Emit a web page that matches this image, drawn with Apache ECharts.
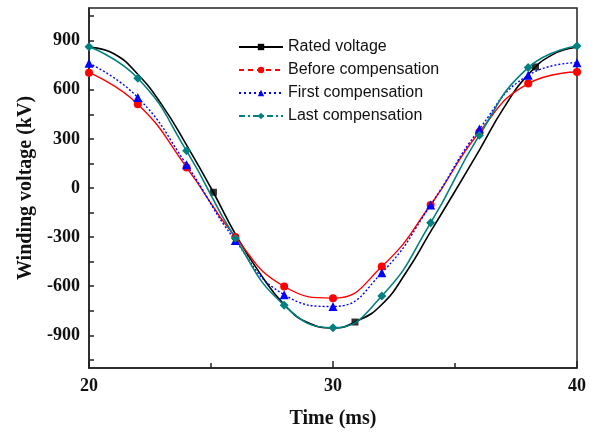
<!DOCTYPE html>
<html>
<head>
<meta charset="utf-8">
<script src="https://cdn.jsdelivr.net/npm/echarts@6/dist/echarts.min.js"></script>
<style>
html,body{margin:0;padding:0;background:#fff;}
#chart{width:595px;height:434px;}
</style>
</head>
<body>
<div id="chart"></div>
<script>
// ---- data ----
var seriesNames = ['Rated voltage', 'Before compensation', 'First compensation', 'Last compensation'];

var ratedT = [20, 21, 22, 23, 24, 25, 26, 27, 28, 29, 30, 31, 32, 33, 34, 35, 36, 37, 38, 39, 40];
var ratedV = [860, 822, 695, 505, 262, 0, -282, -520, -712, -825, -855, -812, -712, -515, -267, -20, 232, 490, 693, 815, 860];
var ratedMarkerT = [25.1, 30.9, 38.3];
var ratedMarkerV = [-26, -819, 740];

var compT = [20, 22, 24, 26, 28, 30, 32, 34, 36, 38, 40];
var beforeV = [705, 512, 126, -300, -602, -673, -480, -104, 342, 638, 709];
var firstV  = [762, 553, 142, -321, -652, -724, -518, -104, 360, 689, 766];
var lastV   = [863, 671, 227, -307, -717, -854, -660, -213, 323, 736, 868];

var yLabelValues = [-900, -600, -300, 0, 300, 600, 900];
var yTickValues = [-1050, -900, -750, -600, -450, -300, -150, 0, 150, 300, 450, 600, 750, 900, 1050];

// ---- build ----
function pairs(t, v) { return t.map(function (x, i) { return [x, v[i]]; }); }

var chart = echarts.init(document.getElementById('chart'));
var serif = '"Liberation Serif", "Times New Roman", serif';
var axisColor = '#222';
chart.setOption({
  animation: false,
  backgroundColor: '#fff',
  grid: { left: 89, right: 18, top: 8, bottom: 65, show: true, borderColor: axisColor, borderWidth: 1.5, backgroundColor: 'transparent' },
  legend: {
    orient: 'vertical', left: 233, top: 34, itemWidth: 44, itemHeight: 8, itemGap: 7,
    textStyle: { fontFamily: '"Liberation Sans", Arial, sans-serif', fontSize: 16, color: '#111' },
    data: [
      { name: seriesNames[0], lineStyle: { type: 'solid' } },
      { name: seriesNames[1], lineStyle: { type: [5, 4] } },
      { name: seriesNames[2], lineStyle: { type: [2, 3] } },
      { name: seriesNames[3], lineStyle: { type: [6, 3, 2, 3] } }
    ]
  },
  xAxis: {
    type: 'value', min: 20, max: 40, interval: 10,
    name: 'Time (ms)', nameLocation: 'middle', nameGap: 41,
    nameTextStyle: { fontFamily: serif, fontWeight: 'bold', fontSize: 20, color: '#111' },
    axisLine: { show: true, onZero: false, lineStyle: { color: axisColor, width: 1.5 } },
    axisTick: { show: true, inside: true, length: 7, lineStyle: { color: axisColor, width: 1.5 } },
    minorTick: { show: true, splitNumber: 2, length: 5, lineStyle: { color: axisColor, width: 1.5 } },
    axisLabel: { fontFamily: serif, fontWeight: 'bold', fontSize: 18, color: '#111', margin: 9 },
    splitLine: { show: false }, minorSplitLine: { show: false }
  },
  yAxis: {
    type: 'value', min: -1100, max: 1100,
    name: 'Winding voltage (kV)', nameLocation: 'middle', nameGap: 49, nameRotate: 90,
    nameTextStyle: { fontFamily: serif, fontWeight: 'bold', fontSize: 20, color: '#111' },
    axisLine: { show: true, onZero: false, lineStyle: { color: axisColor, width: 1.5 } },
    axisTick: { show: true, inside: true, length: 5, customValues: yTickValues, lineStyle: { color: axisColor, width: 1.5 } },
    axisLabel: { fontFamily: serif, fontWeight: 'bold', fontSize: 18, color: '#111', margin: 9, customValues: yLabelValues },
    splitLine: { show: false }
  },
  series: [
    {
      name: seriesNames[0], type: 'line', smooth: true, data: pairs(ratedT, ratedV),
      symbol: 'rect', symbolSize: 7, showSymbol: false,
      lineStyle: { color: '#000', width: 1.6 }, itemStyle: { color: '#000' }
    },
    {
      name: seriesNames[0], type: 'scatter', data: pairs(ratedMarkerT, ratedMarkerV),
      symbol: 'rect', symbolSize: 7, itemStyle: { color: '#000' }
    },
    {
      name: seriesNames[1], type: 'line', smooth: true, data: pairs(compT, beforeV),
      symbol: 'circle', symbolSize: 8, showAllSymbol: true,
      lineStyle: { color: '#ff0000', width: 1.4 }, itemStyle: { color: '#ff0000' }
    },
    {
      name: seriesNames[2], type: 'line', smooth: true, data: pairs(compT, firstV),
      symbol: 'triangle', symbolSize: 9, showAllSymbol: true,
      lineStyle: { color: '#0000ff', width: 1.4, type: [2, 2] }, itemStyle: { color: '#0000ff' }
    },
    {
      name: seriesNames[3], type: 'line', smooth: true, data: pairs(compT, lastV),
      symbol: 'diamond', symbolSize: 9, showAllSymbol: true,
      lineStyle: { color: '#008080', width: 1.6 }, itemStyle: { color: '#008080' }
    }
  ]
});
</script>
</body>
</html>
